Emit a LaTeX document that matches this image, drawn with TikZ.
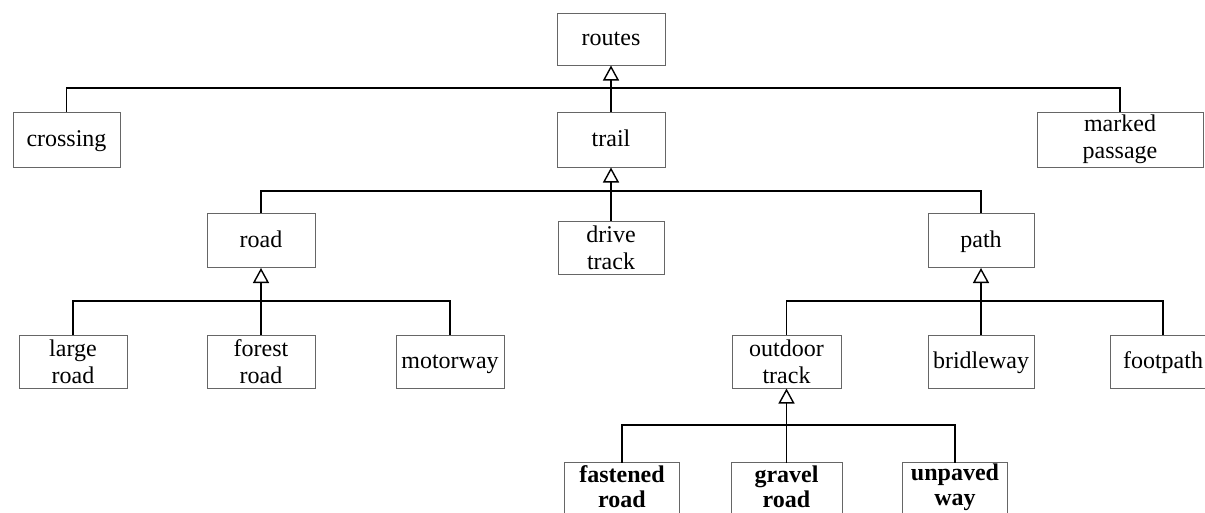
\documentclass[tikz,border=0pt]{standalone}
\usepackage{fontspec}
\setmainfont{Liberation Serif}
\usetikzlibrary{arrows.meta}
\begin{document}
\begin{tikzpicture}[x=1pt,y=-1pt,
  boxline/.style={draw=black!60, line width=1pt},
  box/.style={boxline, minimum width=108pt, minimum height=54pt,
    inner sep=0pt, align=center, font=\fontsize{24}{27}\selectfont},
  one/.style={box, text height=17pt, text depth=4pt},
  bbox/.style={box, draw=none, font=\fontsize{24}{25}\selectfont\bfseries},
  conn/.style={line width=1.8pt, black},
  inh/.style={conn, -{Triangle[open, length=15pt, width=16pt, line width=1.4pt]}}]
\useasboundingbox (0,0) rectangle (1205,512);
\clip (0,0) rectangle (1205,512);
% level 0
\node[one, minimum height=52pt] (routes) at (611,39) {routes};
% level 1
\node[one, minimum width=107pt, minimum height=55pt] (crossing) at (66.5,139.5) {crossing};
\node[one, minimum height=55pt] (trail) at (611,139.5) {trail};
\node[box, minimum width=166pt, minimum height=55pt] (marked) at (1120,139.5) {marked\\passage};
% level 2
\node[one] (road) at (261,240.5) {road};
\node[box, minimum width=106pt, minimum height=53pt] (drive) at (611,247.5) {drive\\track};
\node[one, minimum width=106pt] (path) at (981,240.5) {path};
% level 3
\node[box, minimum height=53pt] (large) at (73,361.5) {large\\road};
\node[box, minimum height=53pt] (forest) at (261,361.5) {forest\\road};
\node[one, minimum height=53pt] (motorway) at (450,361.5) {motorway};
\node[box, minimum width=109pt, minimum height=53pt] (outdoor) at (786.5,361.5) {outdoor\\track};
\node[one, minimum width=106pt, minimum height=53pt] (bridle) at (981,361.5) {bridleway};
\node[one, minimum width=106pt, minimum height=53pt] (footpath) at (1163,361.5) {footpath};
% level 4 (boxes run past the lower edge)
\node[bbox, minimum width=114pt, minimum height=48pt] (fastened) at (622,487) {fastened\\road};
\node[bbox, minimum width=110pt, minimum height=48pt] (gravel) at (786.5,487) {gravel\\road};
\node[bbox, minimum width=104pt, minimum height=48pt] (unpaved) at (955,487) {unpaved\\way};
\foreach \n in {fastened,gravel,unpaved}{
  \draw[boxline] ([yshift=-10pt]\n.south west) -- (\n.north west) -- (\n.north east) -- ([yshift=-10pt]\n.south east);
}
% junctions
\coordinate (jR) at (611,88);
\coordinate (jT) at (611,190.7);
\coordinate (jRd) at (261,300.7);
\coordinate (jP) at (981,300.7);
\coordinate (jO) at (786.5,425);
% connectors
\draw[inh] (trail.north) -- (routes.south);
\draw[conn] (crossing.north) |- (jR);
\draw[conn] (marked.north) |- (jR);
\draw[inh] (drive.north) -- (trail.south);
\draw[conn] (road.north) |- (jT);
\draw[conn] (path.north) |- (jT);
\draw[inh] (forest.north) -- (road.south);
\draw[conn] (large.north) |- (jRd);
\draw[conn] (motorway.north) |- (jRd);
\draw[inh] (bridle.north) -- (path.south);
\draw[conn] (outdoor.north) |- (jP);
\draw[conn] (footpath.north) |- (jP);
\draw[inh] (gravel.north) -- (outdoor.south);
\draw[conn] (fastened.north) |- (jO);
\draw[conn] (unpaved.north) |- (jO);
\end{tikzpicture}
\end{document}
